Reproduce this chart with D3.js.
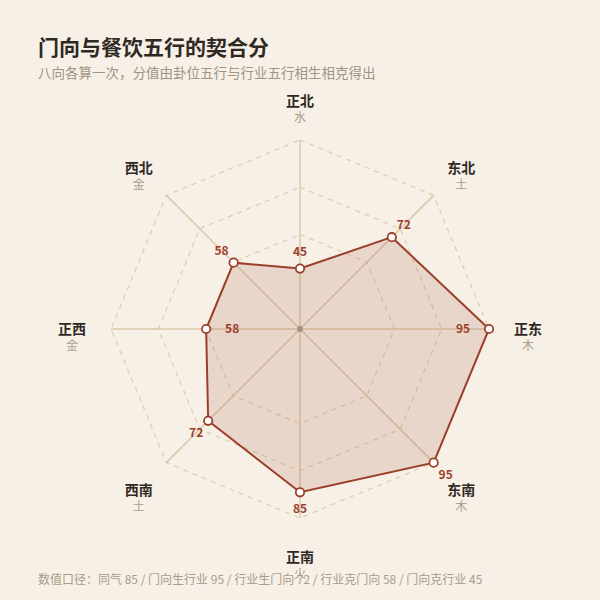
<!DOCTYPE html>
<html>
<head>
<meta charset="utf-8">
<script src="https://cdn.jsdelivr.net/npm/d3@7"></script>
<style>
  body { margin: 0; background: #f7f0e7; }
  svg { display: block; font-family: "Noto Sans CJK SC", "Noto Sans", sans-serif; }
</style>
</head>
<body>
<div id="chart-area"></div>
<script>
// ----------------- Data -----------------
const directions = ["正北", "东北", "正东", "东南", "正南", "西南", "正西", "西北"];
const elements = ["水", "土", "木", "木", "火", "土", "金", "金"];
const scores = [45, 72, 95, 95, 85, 72, 58, 58];
const ringLevels = [0.5, 0.75, 1];   // fractions of outer radius
const scoreDomain = [21.5, 95];

let width = 600, height = 600;
let cx = 300, cy = 329, R = 189;

let svg = d3.select("#chart-area")
  .append("svg")
    .attr("width", width)
    .attr("height", height);

svg.append("rect")
  .attr("width", width).attr("height", height)
  .attr("fill", "#f7f0e7");

// ----------------- Titles -----------------
svg.append("text")
  .attr("x", 38).attr("y", 55)
  .attr("font-size", "21px")
  .attr("font-weight", "bold")
  .attr("fill", "#2f2924")
  .text("门向与餐饮五行的契合分");

svg.append("text")
  .attr("x", 38).attr("y", 78)
  .attr("font-size", "13.5px")
  .attr("fill", "#a09482")
  .text("八向各算一次，分值由卦位五行与行业五行相生相克得出");

let r = d3.scaleLinear().domain(scoreDomain).range([0, R]);
let angle = d3.scalePoint().domain(directions).range([0, 2 * Math.PI * 7 / 8]);

function pt(dir, rad) {
  let a = angle(dir);
  return [cx + rad * Math.sin(a), cy - rad * Math.cos(a)];
}

let g = svg.append("g");

// rings
ringLevels.forEach(level => {
  g.append("path")
    .attr("d", d3.line()(directions.map(d => pt(d, R * level))) + "Z")
    .attr("fill", "none")
    .attr("stroke", "#dacdae")
    .attr("stroke-width", 1.2)
    .attr("stroke-dasharray", "5,5");
});

// spokes
directions.forEach(d => {
  let p = pt(d, R);
  g.append("line")
    .attr("x1", cx).attr("y1", cy)
    .attr("x2", p[0]).attr("y2", p[1])
    .attr("stroke", "#dac9aa")
    .attr("stroke-width", 1.5);
});

// area
let poly = directions.map((d, i) => pt(d, r(scores[i])));
g.append("path")
  .attr("d", d3.line()(poly) + "Z")
  .attr("fill", "#a4502f")
  .attr("fill-opacity", 0.16)
  .attr("stroke", "#9b3f2b")
  .attr("stroke-width", 2);

// center dot
g.append("circle")
  .attr("cx", cx).attr("cy", cy).attr("r", 3)
  .attr("fill", "#a09480");

// points
g.selectAll("circle.pt")
  .data(poly)
  .enter().append("circle")
    .attr("class", "pt")
    .attr("cx", p => p[0]).attr("cy", p => p[1])
    .attr("r", 4.2)
    .attr("fill", "#fff")
    .attr("stroke", "#9b3f2b")
    .attr("stroke-width", 1.8);

// value labels (horizontal axes go inside)
directions.forEach((d, i) => {
  let a = angle(d);
  let horiz = Math.abs(Math.sin(a)) > 0.99;
  let p = pt(d, r(scores[i]) + (horiz ? -26 : 17));
  g.append("text")
    .attr("x", p[0]).attr("y", p[1])
    .attr("dy", "0.35em")
    .attr("text-anchor", "middle")
    .attr("font-size", "12px")
    .attr("font-weight", "bold")
    .attr("fill", "#9b3f2b")
    .text(scores[i]);
});

// axis labels
directions.forEach((d, i) => {
  let p = pt(d, 228);
  g.append("text")
    .attr("x", p[0]).attr("y", p[1])
    .attr("dy", "0.35em")
    .attr("text-anchor", "middle")
    .attr("font-size", "14px")
    .attr("font-weight", "bold")
    .attr("fill", "#2f2924")
    .text(d);
  g.append("text")
    .attr("x", p[0]).attr("y", p[1] + 17)
    .attr("dy", "0.35em")
    .attr("text-anchor", "middle")
    .attr("font-size", "12px")
    .attr("fill", "#ab9f8a")
    .text(elements[i]);
});

// footer
svg.append("text")
  .attr("x", 38).attr("y", 584)
  .attr("font-size", "12px")
  .attr("fill", "#a89c88")
  .text("数值口径：同气 85 / 门向生行业 95 / 行业生门向 72 / 行业克门向 58 / 门向克行业 45");
</script>
</body>
</html>
